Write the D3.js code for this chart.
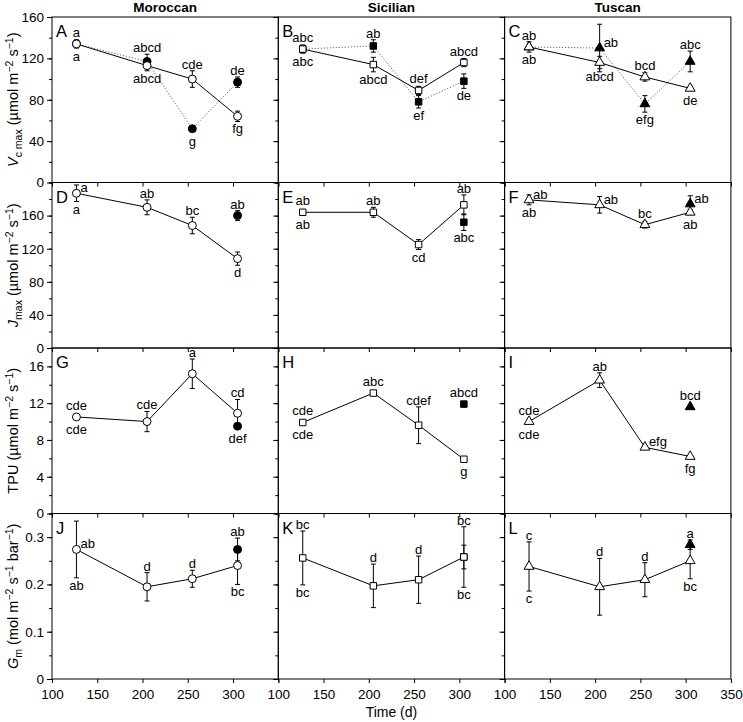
<!DOCTYPE html>
<meta charset="utf-8">
<style>
  body { margin: 0; background: #fff; }
  svg { display: block; }
</style>
<svg width="743" height="722"></svg>
<script src="https://cdn.jsdelivr.net/npm/d3@7/dist/d3.min.js"></script>
<script>

// ---- data ----
var days = [127, 205, 255, 305];
var cultivars = ["Moroccan", "Sicilian", "Tuscan"];
var panelLetters = [["A", "B", "C"], ["D", "E", "F"], ["G", "H", "I"], ["J", "K", "L"]];

// Vc max  (open = solid line, filled = dotted line)
var vcmaxOpen      = [[134, 113, 100, 64], [129, 114, 89, 116], [131, 116, 102, 91]];
var vcmaxOpenErr   = [[4, 5, 8, 5], [4, 7, 4, 4], [5, 6, 4, 2]];
var vcmaxFilled    = [[134, 117, 52, 97], [129, 132, 78, 98], [131, 130, 76, 117]];
var vcmaxFilledErr = [[0, 7, 2, 5], [0, 6, 6, 7], [0, 23, 8, 10]];

// J max
var jmaxOpen      = [[187, 170, 148, 108], [164, 164, 125, 173], [179, 173, 149, 164]];
var jmaxOpenErr   = [[10, 9, 10, 8], [0, 6, 6, 12], [6, 10, 4, 3]];
var jmaxFilled    = [[null, null, null, 160], [null, null, null, 152], [null, null, null, 174]];
var jmaxFilledErr = [[0, 0, 0, 6], [0, 0, 0, 10], [0, 0, 0, 10]];

// TPU
var tpuOpen      = [[10.5, 10.0, 15.2, 10.9], [9.9, 13.1, 9.6, 5.9], [10.0, 14.5, 7.2, 6.2]];
var tpuOpenErr   = [[0, 1.1, 1.6, 1.5], [0, 0.2, 2.0, 0.2], [0, 0.8, 0.2, 0]];
var tpuFilled    = [[null, null, null, 9.5], [null, null, null, 11.9], [null, null, null, 11.6]];
var tpuFilledErr = [[0, 0, 0, 0.2], [0, 0, 0, 0], [0, 0, 0, 0]];

// Gm
var gmOpen      = [[0.274, 0.195, 0.212, 0.240], [0.256, 0.197, 0.210, 0.258], [0.238, 0.195, 0.210, 0.250]];
var gmOpenErr   = [[0.060, 0.030, 0.018, 0.040], [0.057, 0.046, 0.050, 0.064], [0.052, 0.060, 0.036, 0.038]];
var gmFilled    = [[null, null, null, 0.274], [null, null, null, 0.258], [null, null, null, 0.284]];
var gmFilledErr = [[0, 0, 0, 0.024], [0, 0, 0, 0.025], [0, 0, 0, 0.01]];

// letters: [day index, series (o/f), position (a above, b below, r right), text]
var vcmaxLabels = [
  [[0,"o","a","a"],[0,"o","b","a"],[1,"f","a","abcd"],[1,"o","b","abcd"],[2,"o","a","cde"],[2,"f","b","g"],[3,"f","a","de"],[3,"o","b","fg"]],
  [[0,"o","a","abc"],[0,"o","b","abc"],[1,"f","a","ab"],[1,"o","b","abcd"],[2,"o","a","def"],[2,"f","b","ef"],[3,"o","a","abcd"],[3,"f","b","de"]],
  [[0,"o","a","ab"],[0,"o","b","ab"],[1,"f","r","ab"],[1,"o","b","abcd"],[2,"o","a","bcd"],[2,"f","b","efg"],[3,"f","a","abc"],[3,"o","b","de"]]
];
var jmaxLabels = [
  [[0,"o","r","a"],[0,"o","b","a"],[1,"o","a","ab"],[2,"o","a","bc"],[3,"f","a","ab"],[3,"o","b","d"]],
  [[0,"o","a","ab"],[0,"o","b","ab"],[1,"o","a","ab"],[2,"o","b","cd"],[3,"o","a","ab"],[3,"f","b","abc"]],
  [[0,"o","r","ab"],[0,"o","b","ab"],[1,"o","r","ab"],[2,"o","a","bc"],[3,"f","r","ab"],[3,"o","b","ab"]]
];
var tpuLabels = [
  [[0,"o","a","cde"],[0,"o","b","cde"],[1,"o","a","cde"],[2,"o","a","a"],[3,"o","a","cd"],[3,"f","b","def"]],
  [[0,"o","a","cde"],[0,"o","b","cde"],[1,"o","a","abc"],[2,"o","a","cdef"],[3,"o","b","g"],[3,"f","a","abcd"]],
  [[0,"o","a","cde"],[0,"o","b","cde"],[1,"o","a","ab"],[2,"o","r","efg"],[3,"o","b","fg"],[3,"f","a","bcd"]]
];
var gmLabels = [
  [[0,"o","r","ab"],[0,"o","b","ab"],[1,"o","a","d"],[2,"o","a","d"],[3,"f","a","ab"],[3,"o","b","bc"]],
  [[0,"o","a","bc"],[0,"o","b","bc"],[1,"o","a","d"],[2,"o","a","d"],[3,"o","a","bc"],[3,"o","b","bc"]],
  [[0,"o","a","c"],[0,"o","b","c"],[1,"o","a","d"],[2,"o","a","d"],[3,"f","a","a"],[3,"o","b","bc"]]
];

var xTicks = [100, 150, 200, 250, 300, 350];

// ---- layout ----
var svg = d3.select("svg");
var font = "'Liberation Sans', Arial, Helvetica, sans-serif";
var left = 52, top0 = 17, pw = 226.3, ph = 165.5;
var symbols = [d3.symbolCircle, d3.symbolSquare, d3.symbolTriangle];
var symSize = [50, 42, 42];

var rows = [
  { open: vcmaxOpen, openErr: vcmaxOpenErr, filled: vcmaxFilled, filledErr: vcmaxFilledErr, labels: vcmaxLabels,
    max: 160, major: [0, 40, 80, 120, 160], minorStep: 20, dotted: true,
    title: [["V", "i"], ["c max", "sub"], [" (\u00b5mol m", "n"], ["\u22122", "sup"], [" s", "n"], ["\u22121", "sup"], [")", "n"]] },
  { open: jmaxOpen, openErr: jmaxOpenErr, filled: jmaxFilled, filledErr: jmaxFilledErr, labels: jmaxLabels,
    max: 200, major: [0, 40, 80, 120, 160], minorStep: 20, dotted: false,
    title: [["J", "i"], ["max", "sub"], [" (\u00b5mol m", "n"], ["\u22122", "sup"], [" s", "n"], ["\u22121", "sup"], [")", "n"]] },
  { open: tpuOpen, openErr: tpuOpenErr, filled: tpuFilled, filledErr: tpuFilledErr, labels: tpuLabels,
    max: 18, major: [0, 4, 8, 12, 16], minorStep: 2, dotted: false,
    title: [["TPU (\u00b5mol m", "n"], ["\u22122", "sup"], [" s", "n"], ["\u22121", "sup"], [")", "n"]] },
  { open: gmOpen, openErr: gmOpenErr, filled: gmFilled, filledErr: gmFilledErr, labels: gmLabels,
    max: 0.35, major: [0, 0.1, 0.2, 0.3], minorStep: 0.05, dotted: false,
    title: [["G", "i"], ["m", "sub"], [" (mol m", "n"], ["\u22122", "sup"], [" s", "n"], ["\u22121", "sup"], [" bar", "n"], ["\u22121", "sup"], [")", "n"]] }
];

// column titles
cultivars.forEach(function(c, ci) {
  svg.append("text")
    .attr("x", left + pw * ci + pw / 2).attr("y", 12)
    .attr("text-anchor", "middle").attr("font-family", font)
    .attr("font-size", 13.5).attr("font-weight", "bold")
    .text(c);
});

rows.forEach(function(row, ri) {
  var py = top0 + ph * ri;
  var y = d3.scaleLinear().domain([0, row.max]).range([py + ph, py]);

  // y title
  var t = svg.append("text")
    .attr("transform", "translate(18," + (py + ph / 2) + ") rotate(-90)")
    .attr("text-anchor", "middle").attr("font-family", font).attr("font-size", 14.5);
  var shift = 0;
  row.title.forEach(function(seg) {
    var want = seg[1] === "sub" ? 4 : seg[1] === "sup" ? -5 : 0;
    var sp = t.append("tspan").attr("dy", want - shift).text(seg[0]);
    shift = want;
    if (seg[1] === "i") sp.attr("font-style", "italic");
    if (seg[1] === "sub" || seg[1] === "sup") sp.attr("font-size", 10.5);
  });

  var minor = d3.range(0, row.max + 1e-9, row.minorStep).map(function(v) { return +v.toFixed(3); });

  cultivars.forEach(function(c, ci) {
    var px = left + pw * ci;
    var x = d3.scaleLinear().domain([100, 350]).range([px, px + pw]);
    var g = svg.append("g");

    // minor y ticks
    g.append("g").attr("transform", "translate(" + px + ",0)")
      .call(d3.axisLeft(y).tickValues(minor).tickSize(3).tickSizeOuter(0).tickFormat(""))
      .call(function(a) { a.select(".domain").remove(); });
    // major y ticks
    var ya = g.append("g").attr("transform", "translate(" + px + ",0)")
      .call(d3.axisLeft(y).tickValues(row.major).tickSize(5).tickSizeOuter(0).tickPadding(3)
        .tickFormat(function(d) { return ci === 0 ? String(d) : ""; }));
    ya.select(".domain").remove();
    ya.selectAll("text").attr("font-family", font).attr("font-size", 13.5).attr("fill", "#000");

    // x ticks
    var xa = g.append("g").attr("transform", "translate(0," + (py + ph) + ")")
      .call(d3.axisBottom(x).tickValues(xTicks).tickSize(4).tickSizeOuter(0).tickPadding(6)
        .tickFormat(function(d) {
          if (ri !== 3) return "";
          if (d === 350 && ci !== 2) return "";
          return String(d);
        }));
    xa.select(".domain").remove();
    xa.selectAll("text").attr("font-family", font).attr("font-size", 13.5).attr("fill", "#000");

    // frame
    g.append("rect").attr("x", px).attr("y", py).attr("width", pw).attr("height", ph)
      .attr("fill", "none").attr("stroke", "#000").attr("stroke-width", 1);

    // panel letter
    g.append("text").attr("x", px + 4).attr("y", py + 20)
      .attr("font-family", font).attr("font-size", 16.5).text(panelLetters[ri][ci]);

    var openPts = days.map(function(d, i) { return { d: d, v: row.open[ci][i], e: row.openErr[ci][i] }; });
    var filledPts = days.map(function(d, i) { return { d: d, v: row.filled[ci][i], e: row.filledErr[ci][i] }; })
      .filter(function(p) { return p.v != null; });

    var line = d3.line().x(function(p) { return x(p.d); }).y(function(p) { return y(p.v); });

    if (row.dotted) {
      g.append("path").datum(filledPts).attr("d", line)
        .attr("fill", "none").attr("stroke", "#555").attr("stroke-width", 0.9)
        .attr("stroke-dasharray", "1.2,1.8");
    }
    g.append("path").datum(openPts).attr("d", line)
      .attr("fill", "none").attr("stroke", "#000").attr("stroke-width", 1);

    function drawPts(pts, fill) {
      pts.forEach(function(p) {
        var cx = x(p.d), cy = y(p.v);
        if (p.e > 0) {
          var y1 = y(p.v + p.e), y2 = y(p.v - p.e);
          g.append("line").attr("x1", cx).attr("x2", cx).attr("y1", y1).attr("y2", y2)
            .attr("stroke", "#000").attr("stroke-width", 1);
          [y1, y2].forEach(function(yy) {
            g.append("line").attr("x1", cx - 2.5).attr("x2", cx + 2.5).attr("y1", yy).attr("y2", yy)
              .attr("stroke", "#000").attr("stroke-width", 1);
          });
        }
        g.append("path").attr("transform", "translate(" + cx + "," + cy + ")")
          .attr("d", d3.symbol().type(symbols[ci]).size(symSize[ci]))
          .attr("fill", fill).attr("stroke", "#000").attr("stroke-width", 1);
      });
    }
    drawPts(filledPts, "#000");
    drawPts(openPts, "#fff");

    // significance letters
    row.labels[ci].forEach(function(l) {
      var i = l[0];
      var v = l[1] === "o" ? row.open[ci][i] : row.filled[ci][i];
      var e = l[1] === "o" ? row.openErr[ci][i] : row.filledErr[ci][i];
      var cx = x(days[i]), cy = y(v);
      var topY = Math.min(y(v + e), cy - 5), botY = Math.max(y(v - e), cy + 5);
      var txt = g.append("text").attr("font-family", font).attr("font-size", 13).text(l[3]);
      if (l[2] === "a") txt.attr("x", cx).attr("y", topY - 2).attr("text-anchor", "middle");
      else if (l[2] === "b") txt.attr("x", cx).attr("y", botY + 12).attr("text-anchor", "middle");
      else txt.attr("x", cx + 4).attr("y", cy - 1).attr("text-anchor", "start");
    });
  });
});

svg.append("text").attr("x", left + pw * 1.5).attr("y", 717)
  .attr("text-anchor", "middle").attr("font-family", font).attr("font-size", 14)
  .text("Time (d)");

</script>
